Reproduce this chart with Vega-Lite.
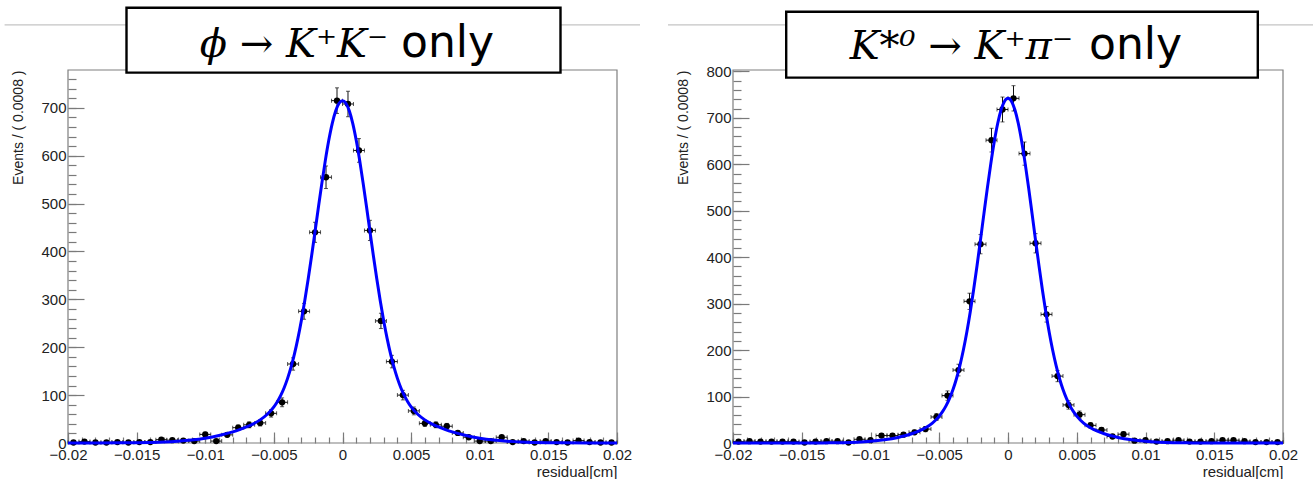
{
"$schema": "https://vega.github.io/schema/vega-lite/v6.json",
"background": "white",
"padding": {"left": 4, "top": 6, "right": 0, "bottom": 0},
"spacing": 116,
"bounds": "flush",
"config": {
  "view": {"stroke": null},
  "axis": {"labelFont": "Liberation Sans", "titleFont": "Liberation Sans", "labelColor": "#222222", "titleColor": "#222222", "tickColor": "#7a7a7a", "tickWidth": 1.2, "domain": false, "grid": false, "labelFontSize": 15, "titleFontSize": 14, "titleFontWeight": "normal", "labelBound": false, "labelOverlap": false, "labelFlush": false}
},
"datasets": {
  "one": [{}],
  "left": [
    {"x":-0.0196,"x0":-0.02,"x1":-0.0192,"n":1,"lo":0,"hi":2},
    {"x":-0.0188,"x0":-0.0192,"x1":-0.0184,"n":3,"lo":1.27,"hi":4.73},
    {"x":-0.018,"x0":-0.0184,"x1":-0.0176,"n":1,"lo":0,"hi":2},
    {"x":-0.0172,"x0":-0.0176,"x1":-0.0168,"n":1,"lo":0,"hi":2},
    {"x":-0.0164,"x0":-0.0168,"x1":-0.016,"n":2,"lo":0.59,"hi":3.41},
    {"x":-0.0156,"x0":-0.016,"x1":-0.0152,"n":1,"lo":0,"hi":2},
    {"x":-0.0148,"x0":-0.0152,"x1":-0.0144,"n":2,"lo":0.59,"hi":3.41},
    {"x":-0.014,"x0":-0.0144,"x1":-0.0136,"n":2,"lo":0.59,"hi":3.41},
    {"x":-0.0132,"x0":-0.0136,"x1":-0.0128,"n":7,"lo":4.35,"hi":9.65},
    {"x":-0.0124,"x0":-0.0128,"x1":-0.012,"n":6,"lo":3.55,"hi":8.45},
    {"x":-0.0116,"x0":-0.012,"x1":-0.0112,"n":5,"lo":2.76,"hi":7.24},
    {"x":-0.0108,"x0":-0.0112,"x1":-0.0104,"n":4,"lo":2,"hi":6},
    {"x":-0.01,"x0":-0.0104,"x1":-0.0096,"n":18,"lo":13.76,"hi":22.24},
    {"x":-0.0092,"x0":-0.0096,"x1":-0.0088,"n":4,"lo":2,"hi":6},
    {"x":-0.0084,"x0":-0.0088,"x1":-0.008,"n":17,"lo":12.88,"hi":21.12},
    {"x":-0.0076,"x0":-0.008,"x1":-0.0072,"n":32,"lo":26.34,"hi":37.66},
    {"x":-0.0068,"x0":-0.0072,"x1":-0.0064,"n":38,"lo":31.84,"hi":44.16},
    {"x":-0.006,"x0":-0.0064,"x1":-0.0056,"n":42,"lo":35.52,"hi":48.48},
    {"x":-0.0052,"x0":-0.0056,"x1":-0.0048,"n":62,"lo":54.13,"hi":69.87},
    {"x":-0.0044,"x0":-0.0048,"x1":-0.004,"n":85,"lo":75.78,"hi":94.22},
    {"x":-0.0036,"x0":-0.004,"x1":-0.0032,"n":165,"lo":152.15,"hi":177.85},
    {"x":-0.0028,"x0":-0.0032,"x1":-0.0024,"n":275,"lo":258.42,"hi":291.58},
    {"x":-0.002,"x0":-0.0024,"x1":-0.0016,"n":440,"lo":419.02,"hi":460.98},
    {"x":-0.0012,"x0":-0.0016,"x1":-0.0008,"n":555,"lo":531.44,"hi":578.56},
    {"x":-0.0004,"x0":-0.0008,"x1":0,"n":715,"lo":688.26,"hi":741.74},
    {"x":0.0004,"x0":0,"x1":0.0008,"n":708,"lo":681.39,"hi":734.61},
    {"x":0.0012,"x0":0.0008,"x1":0.0016,"n":611,"lo":586.28,"hi":635.72},
    {"x":0.002,"x0":0.0016,"x1":0.0024,"n":444,"lo":422.93,"hi":465.07},
    {"x":0.0028,"x0":0.0024,"x1":0.0032,"n":255,"lo":239.03,"hi":270.97},
    {"x":0.0036,"x0":0.0032,"x1":0.004,"n":170,"lo":156.96,"hi":183.04},
    {"x":0.0044,"x0":0.004,"x1":0.0048,"n":100,"lo":90,"hi":110},
    {"x":0.0052,"x0":0.0048,"x1":0.0056,"n":67,"lo":58.81,"hi":75.19},
    {"x":0.006,"x0":0.0056,"x1":0.0064,"n":41,"lo":34.6,"hi":47.4},
    {"x":0.0068,"x0":0.0064,"x1":0.0072,"n":38,"lo":31.84,"hi":44.16},
    {"x":0.0076,"x0":0.0072,"x1":0.008,"n":35,"lo":29.08,"hi":40.92},
    {"x":0.0084,"x0":0.008,"x1":0.0088,"n":21,"lo":16.42,"hi":25.58},
    {"x":0.0092,"x0":0.0088,"x1":0.0096,"n":12,"lo":8.54,"hi":15.46},
    {"x":0.01,"x0":0.0096,"x1":0.0104,"n":4,"lo":2,"hi":6},
    {"x":0.0108,"x0":0.0104,"x1":0.0112,"n":4,"lo":2,"hi":6},
    {"x":0.0116,"x0":0.0112,"x1":0.012,"n":12,"lo":8.54,"hi":15.46},
    {"x":0.0124,"x0":0.012,"x1":0.0128,"n":2,"lo":0.59,"hi":3.41},
    {"x":0.0132,"x0":0.0128,"x1":0.0136,"n":4,"lo":2,"hi":6},
    {"x":0.014,"x0":0.0136,"x1":0.0144,"n":1,"lo":0,"hi":2},
    {"x":0.0148,"x0":0.0144,"x1":0.0152,"n":4,"lo":2,"hi":6},
    {"x":0.0156,"x0":0.0152,"x1":0.016,"n":2,"lo":0.59,"hi":3.41},
    {"x":0.0164,"x0":0.016,"x1":0.0168,"n":1,"lo":0,"hi":2},
    {"x":0.0172,"x0":0.0168,"x1":0.0176,"n":5,"lo":2.76,"hi":7.24},
    {"x":0.018,"x0":0.0176,"x1":0.0184,"n":2,"lo":0.59,"hi":3.41},
    {"x":0.0188,"x0":0.0184,"x1":0.0192,"n":1,"lo":0,"hi":2},
    {"x":0.0196,"x0":0.0192,"x1":0.02,"n":1,"lo":0,"hi":2}
  ],
  "right": [
    {"x":-0.0196,"x0":-0.02,"x1":-0.0192,"n":3,"lo":1.27,"hi":4.73},
    {"x":-0.0188,"x0":-0.0192,"x1":-0.0184,"n":4,"lo":2,"hi":6},
    {"x":-0.018,"x0":-0.0184,"x1":-0.0176,"n":3,"lo":1.27,"hi":4.73},
    {"x":-0.0172,"x0":-0.0176,"x1":-0.0168,"n":3,"lo":1.27,"hi":4.73},
    {"x":-0.0164,"x0":-0.0168,"x1":-0.016,"n":3,"lo":1.27,"hi":4.73},
    {"x":-0.0156,"x0":-0.016,"x1":-0.0152,"n":3,"lo":1.27,"hi":4.73},
    {"x":-0.0148,"x0":-0.0152,"x1":-0.0144,"n":1,"lo":0,"hi":2},
    {"x":-0.014,"x0":-0.0144,"x1":-0.0136,"n":3,"lo":1.27,"hi":4.73},
    {"x":-0.0132,"x0":-0.0136,"x1":-0.0128,"n":4,"lo":2,"hi":6},
    {"x":-0.0124,"x0":-0.0128,"x1":-0.012,"n":4,"lo":2,"hi":6},
    {"x":-0.0116,"x0":-0.012,"x1":-0.0112,"n":1,"lo":0,"hi":2},
    {"x":-0.0108,"x0":-0.0112,"x1":-0.0104,"n":8,"lo":5.17,"hi":10.83},
    {"x":-0.01,"x0":-0.0104,"x1":-0.0096,"n":6,"lo":3.55,"hi":8.45},
    {"x":-0.0092,"x0":-0.0096,"x1":-0.0088,"n":16,"lo":12,"hi":20},
    {"x":-0.0084,"x0":-0.0088,"x1":-0.008,"n":16,"lo":12,"hi":20},
    {"x":-0.0076,"x0":-0.008,"x1":-0.0072,"n":18,"lo":13.76,"hi":22.24},
    {"x":-0.0068,"x0":-0.0072,"x1":-0.0064,"n":23,"lo":18.2,"hi":27.8},
    {"x":-0.006,"x0":-0.0064,"x1":-0.0056,"n":30,"lo":24.52,"hi":35.48},
    {"x":-0.0052,"x0":-0.0056,"x1":-0.0048,"n":56,"lo":48.52,"hi":63.48},
    {"x":-0.0044,"x0":-0.0048,"x1":-0.004,"n":102,"lo":91.9,"hi":112.1},
    {"x":-0.0036,"x0":-0.004,"x1":-0.0032,"n":157,"lo":144.47,"hi":169.53},
    {"x":-0.0028,"x0":-0.0032,"x1":-0.0024,"n":305,"lo":287.54,"hi":322.46},
    {"x":-0.002,"x0":-0.0024,"x1":-0.0016,"n":428,"lo":407.31,"hi":448.69},
    {"x":-0.0012,"x0":-0.0016,"x1":-0.0008,"n":652,"lo":626.47,"hi":677.53},
    {"x":-0.0004,"x0":-0.0008,"x1":0,"n":718,"lo":691.2,"hi":744.8},
    {"x":0.0004,"x0":0,"x1":0.0008,"n":742,"lo":714.76,"hi":769.24},
    {"x":0.0012,"x0":0.0008,"x1":0.0016,"n":623,"lo":598.04,"hi":647.96},
    {"x":0.002,"x0":0.0016,"x1":0.0024,"n":430,"lo":409.26,"hi":450.74},
    {"x":0.0028,"x0":0.0024,"x1":0.0032,"n":277,"lo":260.36,"hi":293.64},
    {"x":0.0036,"x0":0.0032,"x1":0.004,"n":144,"lo":132,"hi":156},
    {"x":0.0044,"x0":0.004,"x1":0.0048,"n":82,"lo":72.94,"hi":91.06},
    {"x":0.0052,"x0":0.0048,"x1":0.0056,"n":61,"lo":53.19,"hi":68.81},
    {"x":0.006,"x0":0.0056,"x1":0.0064,"n":38,"lo":31.84,"hi":44.16},
    {"x":0.0068,"x0":0.0064,"x1":0.0072,"n":28,"lo":22.71,"hi":33.29},
    {"x":0.0076,"x0":0.0072,"x1":0.008,"n":14,"lo":10.26,"hi":17.74},
    {"x":0.0084,"x0":0.008,"x1":0.0088,"n":19,"lo":14.64,"hi":23.36},
    {"x":0.0092,"x0":0.0088,"x1":0.0096,"n":5,"lo":2.76,"hi":7.24},
    {"x":0.01,"x0":0.0096,"x1":0.0104,"n":6,"lo":3.55,"hi":8.45},
    {"x":0.0108,"x0":0.0104,"x1":0.0112,"n":3,"lo":1.27,"hi":4.73},
    {"x":0.0116,"x0":0.0112,"x1":0.012,"n":4,"lo":2,"hi":6},
    {"x":0.0124,"x0":0.012,"x1":0.0128,"n":6,"lo":3.55,"hi":8.45},
    {"x":0.0132,"x0":0.0128,"x1":0.0136,"n":3,"lo":1.27,"hi":4.73},
    {"x":0.014,"x0":0.0136,"x1":0.0144,"n":3,"lo":1.27,"hi":4.73},
    {"x":0.0148,"x0":0.0144,"x1":0.0152,"n":4,"lo":2,"hi":6},
    {"x":0.0156,"x0":0.0152,"x1":0.016,"n":6,"lo":3.55,"hi":8.45},
    {"x":0.0164,"x0":0.016,"x1":0.0168,"n":6,"lo":3.55,"hi":8.45},
    {"x":0.0172,"x0":0.0168,"x1":0.0176,"n":4,"lo":2,"hi":6},
    {"x":0.018,"x0":0.0176,"x1":0.0184,"n":2,"lo":0.59,"hi":3.41},
    {"x":0.0188,"x0":0.0184,"x1":0.0192,"n":2,"lo":0.59,"hi":3.41},
    {"x":0.0196,"x0":0.0192,"x1":0.02,"n":2,"lo":0.59,"hi":3.41}
  ],
  "leftFit": [
    {"x":-0.02,"f":0.01},{"x":-0.018,"f":0.05},{"x":-0.016,"f":0.3},{"x":-0.015,"f":0.5},{"x":-0.014,"f":1.1},{"x":-0.013,"f":2.0},{"x":-0.012,"f":3.6},{"x":-0.011,"f":6.1},{"x":-0.01,"f":10.0},{"x":-0.009,"f":15.6},{"x":-0.008,"f":23.2},{"x":-0.0075,"f":28.0},{"x":-0.007,"f":33.5},{"x":-0.0065,"f":40.1},{"x":-0.006,"f":48.3},{"x":-0.0055,"f":59.5},{"x":-0.005,"f":75.5},{"x":-0.00475,"f":86.3},{"x":-0.0045,"f":99.4},{"x":-0.00425,"f":115.5},{"x":-0.004,"f":135.0},{"x":-0.00375,"f":158.4},{"x":-0.0035,"f":186.1},{"x":-0.00325,"f":218.5},{"x":-0.003,"f":255.5},{"x":-0.00275,"f":297.0},{"x":-0.0025,"f":342.5},{"x":-0.00225,"f":391.2},{"x":-0.002,"f":441.9},{"x":-0.00175,"f":493.3},{"x":-0.0015,"f":543.3},{"x":-0.00125,"f":590.3},{"x":-0.001,"f":632.1},{"x":-0.00075,"f":667.0},{"x":-0.0005,"f":693.2},{"x":-0.00025,"f":709.5},
    {"x":0,"f":715},
    {"x":0.00025,"f":709.5},{"x":0.0005,"f":693.2},{"x":0.00075,"f":667.0},{"x":0.001,"f":632.1},{"x":0.00125,"f":590.3},{"x":0.0015,"f":543.3},{"x":0.00175,"f":493.3},{"x":0.002,"f":441.9},{"x":0.00225,"f":391.2},{"x":0.0025,"f":342.5},{"x":0.00275,"f":297.0},{"x":0.003,"f":255.5},{"x":0.00325,"f":218.5},{"x":0.0035,"f":186.1},{"x":0.00375,"f":158.4},{"x":0.004,"f":135.0},{"x":0.00425,"f":115.5},{"x":0.0045,"f":99.4},{"x":0.00475,"f":86.3},{"x":0.005,"f":75.5},{"x":0.0055,"f":59.5},{"x":0.006,"f":48.3},{"x":0.0065,"f":40.1},{"x":0.007,"f":33.5},{"x":0.0075,"f":28.0},{"x":0.008,"f":23.2},{"x":0.009,"f":15.6},{"x":0.01,"f":10.0},{"x":0.011,"f":6.1},{"x":0.012,"f":3.6},{"x":0.013,"f":2.0},{"x":0.014,"f":1.1},{"x":0.015,"f":0.5},{"x":0.016,"f":0.3},{"x":0.018,"f":0.05},{"x":0.02,"f":0.01}
  ],
  "rightFit": [
    {"x":-0.02,"f":0},{"x":-0.016,"f":0.02},{"x":-0.014,"f":0.15},{"x":-0.013,"f":0.4},{"x":-0.012,"f":0.8},{"x":-0.011,"f":1.8},{"x":-0.01,"f":3.6},{"x":-0.009,"f":6.8},{"x":-0.008,"f":11.9},{"x":-0.0075,"f":15.5},{"x":-0.007,"f":19.9},{"x":-0.0065,"f":25.5},{"x":-0.006,"f":32.8},{"x":-0.0055,"f":43.0},{"x":-0.005,"f":57.9},{"x":-0.00475,"f":68.0},{"x":-0.0045,"f":80.5},{"x":-0.00425,"f":96.1},{"x":-0.004,"f":115.2},{"x":-0.00375,"f":138.4},{"x":-0.0035,"f":166.5},{"x":-0.00325,"f":199.6},{"x":-0.003,"f":237.9},{"x":-0.00275,"f":281.6},{"x":-0.0025,"f":329.9},{"x":-0.00225,"f":382.3},{"x":-0.002,"f":437.4},{"x":-0.00175,"f":493.8},{"x":-0.0015,"f":549.2},{"x":-0.00125,"f":601.5},{"x":-0.001,"f":648.4},{"x":-0.00075,"f":687.7},{"x":-0.0005,"f":717.3},{"x":-0.00025,"f":735.7},
    {"x":0,"f":742},
    {"x":0.00025,"f":735.7},{"x":0.0005,"f":717.3},{"x":0.00075,"f":687.7},{"x":0.001,"f":648.4},{"x":0.00125,"f":601.5},{"x":0.0015,"f":549.2},{"x":0.00175,"f":493.8},{"x":0.002,"f":437.4},{"x":0.00225,"f":382.3},{"x":0.0025,"f":329.9},{"x":0.00275,"f":281.6},{"x":0.003,"f":237.9},{"x":0.00325,"f":199.6},{"x":0.0035,"f":166.5},{"x":0.00375,"f":138.4},{"x":0.004,"f":115.2},{"x":0.00425,"f":96.1},{"x":0.0045,"f":80.5},{"x":0.00475,"f":68.0},{"x":0.005,"f":57.9},{"x":0.0055,"f":43.0},{"x":0.006,"f":32.8},{"x":0.0065,"f":25.5},{"x":0.007,"f":19.9},{"x":0.0075,"f":15.5},{"x":0.008,"f":11.9},{"x":0.009,"f":6.8},{"x":0.01,"f":3.6},{"x":0.011,"f":1.8},{"x":0.012,"f":0.8},{"x":0.013,"f":0.4},{"x":0.014,"f":0.15},{"x":0.016,"f":0.02},{"x":0.02,"f":0}
  ]
},
"hconcat": [
{
  "width": 549, "height": 373,
  "resolve": {"axis": {"x": "independent", "y": "independent"}},
  "layer": [
    {"data": {"name": "one"}, "mark": {"type": "rule", "color": "#c4c4c4", "strokeWidth": 1.2},
     "encoding": {"x": {"datum": -0.024619, "type": "quantitative", "scale": {"domain": [-0.02, 0.02], "nice": false, "zero": false}, "axis": null}, "x2": {"datum": 0.021676}, "y": {"datum": 873.4, "type": "quantitative", "scale": {"domain": [0, 779], "nice": false, "zero": false}, "axis": null}}},
    {"data": {"name": "one"}, "mark": {"type": "rect", "fill": "white", "fillOpacity": 0, "stroke": "#7f7f7f", "strokeWidth": 1.2},
     "encoding": {"x": {"datum": -0.02, "type": "quantitative", "scale": {"domain": [-0.02, 0.02], "nice": false, "zero": false}, "axis": null}, "x2": {"datum": 0.02}, "y": {"datum": 0, "type": "quantitative", "scale": {"domain": [0, 779], "nice": false, "zero": false}, "axis": null}, "y2": {"datum": 779}}},
    {"data": {"name": "left"}, "mark": {"type": "rule", "color": "#111111", "strokeWidth": 1},
     "encoding": {"x": {"field": "x", "type": "quantitative", "scale": {"domain": [-0.02, 0.02], "nice": false, "zero": false}, "axis": null}, "y": {"field": "lo", "type": "quantitative", "scale": {"domain": [0, 779], "nice": false, "zero": false}, "axis": null}, "y2": {"field": "hi"}}},
    {"data": {"name": "left"}, "mark": {"type": "rule", "color": "#111111", "strokeWidth": 1},
     "encoding": {"x": {"field": "x0", "type": "quantitative", "scale": {"domain": [-0.02, 0.02], "nice": false, "zero": false}, "axis": null}, "x2": {"field": "x1"}, "y": {"field": "n", "type": "quantitative", "scale": {"domain": [0, 779], "nice": false, "zero": false}, "axis": null}}},
    {"data": {"name": "left"}, "mark": {"type": "tick", "orient": "horizontal", "color": "#111111", "size": 4, "thickness": 1},
     "encoding": {"x": {"field": "x", "type": "quantitative", "scale": {"domain": [-0.02, 0.02], "nice": false, "zero": false}, "axis": null}, "y": {"field": "hi", "type": "quantitative", "scale": {"domain": [0, 779], "nice": false, "zero": false}, "axis": null}}},
    {"data": {"name": "left"}, "mark": {"type": "tick", "orient": "horizontal", "color": "#111111", "size": 4, "thickness": 1},
     "encoding": {"x": {"field": "x", "type": "quantitative", "scale": {"domain": [-0.02, 0.02], "nice": false, "zero": false}, "axis": null}, "y": {"field": "lo", "type": "quantitative", "scale": {"domain": [0, 779], "nice": false, "zero": false}, "axis": null}}},
    {"data": {"name": "left"}, "mark": {"type": "tick", "orient": "vertical", "color": "#111111", "size": 4, "thickness": 1},
     "encoding": {"x": {"field": "x0", "type": "quantitative", "scale": {"domain": [-0.02, 0.02], "nice": false, "zero": false}, "axis": null}, "y": {"field": "n", "type": "quantitative", "scale": {"domain": [0, 779], "nice": false, "zero": false}, "axis": null}}},
    {"data": {"name": "left"}, "mark": {"type": "tick", "orient": "vertical", "color": "#111111", "size": 4, "thickness": 1},
     "encoding": {"x": {"field": "x1", "type": "quantitative", "scale": {"domain": [-0.02, 0.02], "nice": false, "zero": false}, "axis": null}, "y": {"field": "n", "type": "quantitative", "scale": {"domain": [0, 779], "nice": false, "zero": false}, "axis": null}}},
    {"data": {"name": "left"}, "mark": {"type": "circle", "color": "#000000", "size": 40, "opacity": 1},
     "encoding": {
       "x": {"field": "x", "type": "quantitative", "scale": {"domain": [-0.02, 0.02], "nice": false, "zero": false},
             "axis": {"orient": "bottom", "values": [-0.02, -0.015, -0.01, -0.005, 0, 0.005, 0.01, 0.015, 0.02], "format": "~g", "tickSize": -11, "labelPadding": 15, "title": "residual[cm]", "titleAnchor": "end", "titleAlign": "right", "titleX": 549, "titleY": 28, "titleBaseline": "middle", "titleFontSize": 15}},
       "y": {"field": "n", "type": "quantitative", "scale": {"domain": [0, 779], "nice": false, "zero": false},
             "axis": {"orient": "left", "values": [0, 100, 200, 300, 400, 500, 600, 700], "format": "d", "tickSize": -16, "labelPadding": 18, "title": "Events / ( 0.0008 )", "titleAngle": -90, "titleX": -50, "titleY": 0, "titleAlign": "right", "titleBaseline": "middle"}}}},
    {"data": {"name": "leftFit"}, "mark": {"type": "line", "color": "#0000ff", "strokeWidth": 3, "interpolate": "monotone"},
     "encoding": {
       "x": {"field": "x", "type": "quantitative", "scale": {"domain": [-0.02, 0.02], "nice": false, "zero": false},
             "axis": {"orient": "bottom", "values": [-0.02,-0.019,-0.018,-0.017,-0.016,-0.015,-0.014,-0.013,-0.012,-0.011,-0.01,-0.009,-0.008,-0.007,-0.006,-0.005,-0.004,-0.003,-0.002,-0.001,0,0.001,0.002,0.003,0.004,0.005,0.006,0.007,0.008,0.009,0.01,0.011,0.012,0.013,0.014,0.015,0.016,0.017,0.018,0.019,0.02], "tickSize": -6, "labels": false, "title": null}},
       "y": {"field": "f", "type": "quantitative", "scale": {"domain": [0, 779], "nice": false, "zero": false},
             "axis": {"orient": "left", "values": [0,20,40,60,80,100,120,140,160,180,200,220,240,260,280,300,320,340,360,380,400,420,440,460,480,500,520,540,560,580,600,620,640,660,680,700,720,740,760], "tickSize": -8, "labels": false, "title": null}}}},
    {"data": {"name": "one"}, "mark": {"type": "rect", "fill": "white", "stroke": "#000000", "strokeWidth": 2.4},
     "encoding": {"x": {"datum": -0.0157377, "type": "quantitative", "scale": {"domain": [-0.02, 0.02], "nice": false, "zero": false}, "axis": null}, "x2": {"datum": 0.0158834}, "y": {"datum": 773.6, "type": "quantitative", "scale": {"domain": [0, 779], "nice": false, "zero": false}, "axis": null}, "y2": {"datum": 909.1}}},
    {"data": {"name": "one"}, "mark": {"type": "text", "text": "ϕ → K⁺K⁻", "font": "DejaVu Serif", "fontStyle": "italic", "fontSize": 40, "align": "right", "baseline": "alphabetic", "color": "#000000"},
     "encoding": {"x": {"datum": 0.0033151, "type": "quantitative", "scale": {"domain": [-0.02, 0.02], "nice": false, "zero": false}, "axis": null}, "y": {"datum": 805.7, "type": "quantitative", "scale": {"domain": [0, 779], "nice": false, "zero": false}, "axis": null}}},
    {"data": {"name": "one"}, "mark": {"type": "text", "text": "only", "font": "DejaVu Sans", "fontSize": 44, "align": "left", "baseline": "alphabetic", "color": "#000000"},
     "encoding": {"x": {"datum": 0.0042623, "type": "quantitative", "scale": {"domain": [-0.02, 0.02], "nice": false, "zero": false}, "axis": null}, "y": {"datum": 805.7, "type": "quantitative", "scale": {"domain": [0, 779], "nice": false, "zero": false}, "axis": null}}}
  ]
},
{
  "width": 550, "height": 373,
  "resolve": {"axis": {"x": "independent", "y": "independent"}},
  "layer": [
    {"data": {"name": "one"}, "mark": {"type": "rule", "color": "#c4c4c4", "strokeWidth": 1.2},
     "encoding": {"x": {"datum": -0.024727, "type": "quantitative", "scale": {"domain": [-0.02, 0.02], "nice": false, "zero": false}, "axis": null}, "x2": {"datum": 0.022182}, "y": {"datum": 900.3, "type": "quantitative", "scale": {"domain": [0, 803], "nice": false, "zero": false}, "axis": null}}},
    {"data": {"name": "one"}, "mark": {"type": "rect", "fill": "white", "fillOpacity": 0, "stroke": "#7f7f7f", "strokeWidth": 1.2},
     "encoding": {"x": {"datum": -0.02, "type": "quantitative", "scale": {"domain": [-0.02, 0.02], "nice": false, "zero": false}, "axis": null}, "x2": {"datum": 0.02}, "y": {"datum": 0, "type": "quantitative", "scale": {"domain": [0, 803], "nice": false, "zero": false}, "axis": null}, "y2": {"datum": 803}}},
    {"data": {"name": "right"}, "mark": {"type": "rule", "color": "#111111", "strokeWidth": 1},
     "encoding": {"x": {"field": "x", "type": "quantitative", "scale": {"domain": [-0.02, 0.02], "nice": false, "zero": false}, "axis": null}, "y": {"field": "lo", "type": "quantitative", "scale": {"domain": [0, 803], "nice": false, "zero": false}, "axis": null}, "y2": {"field": "hi"}}},
    {"data": {"name": "right"}, "mark": {"type": "rule", "color": "#111111", "strokeWidth": 1},
     "encoding": {"x": {"field": "x0", "type": "quantitative", "scale": {"domain": [-0.02, 0.02], "nice": false, "zero": false}, "axis": null}, "x2": {"field": "x1"}, "y": {"field": "n", "type": "quantitative", "scale": {"domain": [0, 803], "nice": false, "zero": false}, "axis": null}}},
    {"data": {"name": "right"}, "mark": {"type": "tick", "orient": "horizontal", "color": "#111111", "size": 4, "thickness": 1},
     "encoding": {"x": {"field": "x", "type": "quantitative", "scale": {"domain": [-0.02, 0.02], "nice": false, "zero": false}, "axis": null}, "y": {"field": "hi", "type": "quantitative", "scale": {"domain": [0, 803], "nice": false, "zero": false}, "axis": null}}},
    {"data": {"name": "right"}, "mark": {"type": "tick", "orient": "horizontal", "color": "#111111", "size": 4, "thickness": 1},
     "encoding": {"x": {"field": "x", "type": "quantitative", "scale": {"domain": [-0.02, 0.02], "nice": false, "zero": false}, "axis": null}, "y": {"field": "lo", "type": "quantitative", "scale": {"domain": [0, 803], "nice": false, "zero": false}, "axis": null}}},
    {"data": {"name": "right"}, "mark": {"type": "tick", "orient": "vertical", "color": "#111111", "size": 4, "thickness": 1},
     "encoding": {"x": {"field": "x0", "type": "quantitative", "scale": {"domain": [-0.02, 0.02], "nice": false, "zero": false}, "axis": null}, "y": {"field": "n", "type": "quantitative", "scale": {"domain": [0, 803], "nice": false, "zero": false}, "axis": null}}},
    {"data": {"name": "right"}, "mark": {"type": "tick", "orient": "vertical", "color": "#111111", "size": 4, "thickness": 1},
     "encoding": {"x": {"field": "x1", "type": "quantitative", "scale": {"domain": [-0.02, 0.02], "nice": false, "zero": false}, "axis": null}, "y": {"field": "n", "type": "quantitative", "scale": {"domain": [0, 803], "nice": false, "zero": false}, "axis": null}}},
    {"data": {"name": "right"}, "mark": {"type": "circle", "color": "#000000", "size": 40, "opacity": 1},
     "encoding": {
       "x": {"field": "x", "type": "quantitative", "scale": {"domain": [-0.02, 0.02], "nice": false, "zero": false},
             "axis": {"orient": "bottom", "values": [-0.02, -0.015, -0.01, -0.005, 0, 0.005, 0.01, 0.015, 0.02], "format": "~g", "tickSize": -11, "labelPadding": 15, "title": "residual[cm]", "titleAnchor": "end", "titleAlign": "right", "titleX": 550, "titleY": 28, "titleBaseline": "middle", "titleFontSize": 15}},
       "y": {"field": "n", "type": "quantitative", "scale": {"domain": [0, 803], "nice": false, "zero": false},
             "axis": {"orient": "left", "values": [0, 100, 200, 300, 400, 500, 600, 700, 800], "format": "d", "tickSize": -16, "labelPadding": 18, "title": "Events / ( 0.0008 )", "titleAngle": -90, "titleX": -50, "titleY": 0, "titleAlign": "right", "titleBaseline": "middle"}}}},
    {"data": {"name": "rightFit"}, "mark": {"type": "line", "color": "#0000ff", "strokeWidth": 3, "interpolate": "monotone"},
     "encoding": {
       "x": {"field": "x", "type": "quantitative", "scale": {"domain": [-0.02, 0.02], "nice": false, "zero": false},
             "axis": {"orient": "bottom", "values": [-0.02,-0.019,-0.018,-0.017,-0.016,-0.015,-0.014,-0.013,-0.012,-0.011,-0.01,-0.009,-0.008,-0.007,-0.006,-0.005,-0.004,-0.003,-0.002,-0.001,0,0.001,0.002,0.003,0.004,0.005,0.006,0.007,0.008,0.009,0.01,0.011,0.012,0.013,0.014,0.015,0.016,0.017,0.018,0.019,0.02], "tickSize": -6, "labels": false, "title": null}},
       "y": {"field": "f", "type": "quantitative", "scale": {"domain": [0, 803], "nice": false, "zero": false},
             "axis": {"orient": "left", "values": [0,20,40,60,80,100,120,140,160,180,200,220,240,260,280,300,320,340,360,380,400,420,440,460,480,500,520,540,560,580,600,620,640,660,680,700,720,740,760,780,800], "tickSize": -8, "labels": false, "title": null}}}},
    {"data": {"name": "one"}, "mark": {"type": "rect", "fill": "white", "stroke": "#000000", "strokeWidth": 2.4},
     "encoding": {"x": {"datum": -0.0161309, "type": "quantitative", "scale": {"domain": [-0.02, 0.02], "nice": false, "zero": false}, "axis": null}, "x2": {"datum": 0.0181673}, "y": {"datum": 786.6, "type": "quantitative", "scale": {"domain": [0, 803], "nice": false, "zero": false}, "axis": null}, "y2": {"datum": 928.5}}},
    {"data": {"name": "one"}, "mark": {"type": "text", "text": "K*⁰ → K⁺π⁻", "font": "DejaVu Serif", "fontStyle": "italic", "fontSize": 40, "align": "right", "baseline": "alphabetic", "color": "#000000"},
     "encoding": {"x": {"datum": 0.0047273, "type": "quantitative", "scale": {"domain": [-0.02, 0.02], "nice": false, "zero": false}, "axis": null}, "y": {"datum": 827.1, "type": "quantitative", "scale": {"domain": [0, 803], "nice": false, "zero": false}, "axis": null}}},
    {"data": {"name": "one"}, "mark": {"type": "text", "text": "only", "font": "DejaVu Sans", "fontSize": 44, "align": "left", "baseline": "alphabetic", "color": "#000000"},
     "encoding": {"x": {"datum": 0.0058909, "type": "quantitative", "scale": {"domain": [-0.02, 0.02], "nice": false, "zero": false}, "axis": null}, "y": {"datum": 827.1, "type": "quantitative", "scale": {"domain": [0, 803], "nice": false, "zero": false}, "axis": null}}}
  ]
}
]
}
